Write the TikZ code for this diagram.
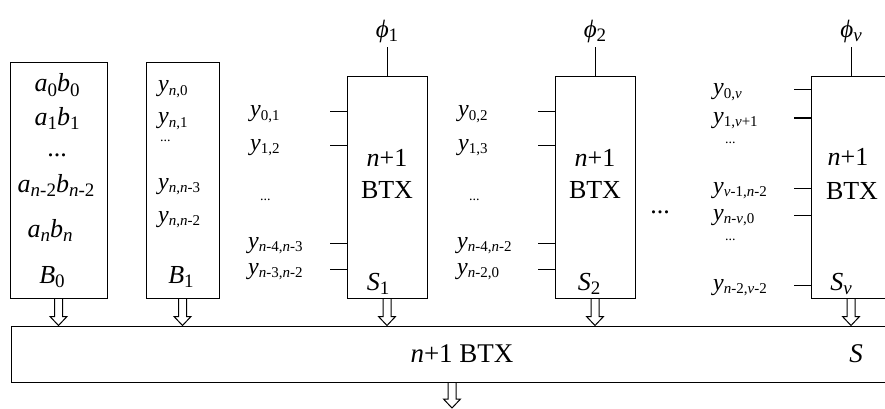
\documentclass[tikz,border=0pt]{standalone}
\usepackage{fontspec}
\setmainfont{Liberation Serif}
\usetikzlibrary{arrows.meta, positioning, calc}
% italic letter and lowered small indices (box text / side labels)
\newcommand{\iv}[1]{\textit{#1}}
\newcommand{\sbs}[1]{\raisebox{-0.35ex}{\fontsize{19}{19}\selectfont #1}}
\newcommand{\lsb}[1]{\raisebox{-0.35ex}{\fontsize{15}{15}\selectfont #1}}
\newcommand{\sdots}{{\fontsize{14}{14}\selectfont ...}}

\begin{document}
\begin{tikzpicture}[x=1pt, y=-1pt,
    blk/.style={rectangle, draw, line width=1pt, minimum width=80pt,
                minimum height=221pt, inner sep=0pt},
    tick/.style={line width=1pt},
    txt/.style={anchor=base, inner sep=0pt, font=\fontsize{26}{26}\selectfont},
    lbl/.style={anchor=base west, inner sep=0pt, font=\fontsize{24}{24}\selectfont},
    busarr/.style={line width=1pt, to path={
        ($(\tikztostart)+(-4,0)$) -- ($(\tikztotarget)+(-4,-9)$)
        -- ($(\tikztotarget)+(-8.5,-9)$) -- (\tikztotarget)
        -- ($(\tikztotarget)+(8.5,-9)$) -- ($(\tikztotarget)+(4,-9)$)
        -- ($(\tikztostart)+(4,0)$)}},
  ]
    \useasboundingbox (0,0) rectangle (885,409);

    % input blocks
    \node[blk, minimum width=97pt, minimum height=235pt] (b0) at (58.5,180.5) {};
    \node[blk, minimum width=73pt, minimum height=235pt] (b1) at (182.5,180.5) {};
    \node[blk] (s1) at (387,187.5) {};
    \node[blk] (s2) at (595,187.5) {};
    \node[blk] (sv) at (851,187.5) {};
    \node[rectangle, draw, line width=1pt, minimum width=894pt, minimum height=56pt,
          inner sep=0pt] (bus) at (458,354) {};

    % B0 contents
    \node[txt] (a0) at (57,92) {\iv{a}\sbs{0}\iv{b}\sbs{0}};
    \node[txt] (a1) at (57,125) {\iv{a}\sbs{1}\iv{b}\sbs{1}};
    \node[txt] (ad) at (57,156) {...};
    \node[txt] (a2) at (56,192) {\iv{a}\sbs{\iv{n}-2}\iv{b}\sbs{\iv{n}-2}};
    \node[txt] (an) at (50,237) {\iv{a}\sbs{\iv{n}}\iv{b}\sbs{\iv{n}}};
    \node[txt] (lb0) at (52,283) {\iv{B}\sbs{0}};

    % B1 contents
    \node[lbl] (yn0) at (158,92) {\iv{y}\lsb{\iv{n},0}};
    \node[lbl] (yn1) at (158,124) {\iv{y}\lsb{\iv{n},1}};
    \node[lbl] (ynd) at (160,141) {\sdots};
    \node[lbl] (yn3) at (158,189) {\iv{y}\lsb{\iv{n},\iv{n}-3}};
    \node[lbl] (yn2) at (158,222) {\iv{y}\lsb{\iv{n},\iv{n}-2}};
    \node[txt] (lb1) at (181,283) {\iv{B}\sbs{1}};

    % BTX blocks
    \foreach \b/\k in {s1/1, s2/2, sv/\iv{v}} {
      \draw[tick] (\b.north) -- ++(0,-29)
        node[above, inner sep=4pt, font=\fontsize{25}{25}\selectfont] {\iv{ϕ}\sbs{\k}};
    }
    \node[txt] (n1) at (387,166) {\iv{n}+1};
    \node[txt] (t1) at (387,198) {BTX};
    \node[txt] (ls1) at (378,290) {\iv{S}\sbs{1}};
    \node[txt] (n2) at (595,166) {\iv{n}+1};
    \node[txt] (t2) at (595,198) {BTX};
    \node[txt] (ls2) at (589,290) {\iv{S}\sbs{2}};
    \node[txt] (nv) at (848,165) {\iv{n}+1};
    \node[txt] (tv) at (852,199) {BTX};
    \node[txt] (lsv) at (841,290) {\iv{S}\sbs{\iv{v}}};
    \node[txt] (mid) at (660,213) {...};

    % inputs of S1
    \foreach \yy in {112,145,243,269}
      \draw[tick] (s1.west |- 0,\yy) -- ++(-17,0);
    \node[lbl] (y01) at (250,117) {\iv{y}\lsb{0,1}};
    \node[lbl] (y12) at (250,150) {\iv{y}\lsb{1,2}};
    \node[lbl] (y1d) at (260,200) {\sdots};
    \node[lbl] (y43) at (248,248) {\iv{y}\lsb{\iv{n}-4,\iv{n}-3}};
    \node[lbl] (y32) at (248,274) {\iv{y}\lsb{\iv{n}-3,\iv{n}-2}};

    % inputs of S2
    \foreach \yy in {112,145,243,269}
      \draw[tick] (s2.west |- 0,\yy) -- ++(-17,0);
    \node[lbl] (y02) at (458,117) {\iv{y}\lsb{0,2}};
    \node[lbl] (y13) at (458,150) {\iv{y}\lsb{1,3}};
    \node[lbl] (y2d) at (469,200) {\sdots};
    \node[lbl] (y42) at (457,248) {\iv{y}\lsb{\iv{n}-4,\iv{n}-2}};
    \node[lbl] (y20) at (457,274) {\iv{y}\lsb{\iv{n}-2,0}};

    % inputs of Sv
    \foreach \yy in {90,118,188,215,285}
      \draw[tick] (sv.west |- 0,\yy) -- ++(-17,0);
    \node[lbl] (y0v) at (713,95) {\iv{y}\lsb{0,\iv{v}}};
    \node[lbl] (y1v) at (713,123) {\iv{y}\lsb{1,\iv{v}+1}};
    \node[lbl] (yvd) at (725,143) {\sdots};
    \node[lbl] (yv1) at (713,193) {\iv{y}\lsb{\iv{v}-1,\iv{n}-2}};
    \node[lbl] (ynv) at (713,220) {\iv{y}\lsb{\iv{n}-\iv{v},0}};
    \node[lbl] (ywd) at (725,240) {\sdots};
    \node[lbl] (yv2) at (713,290) {\iv{y}\lsb{\iv{n}-2,\iv{v}-2}};

    % output bus
    \node[txt, font=\fontsize{27}{27}\selectfont] (btx) at (462,362) {\iv{n}+1 BTX};
    \node[txt, font=\fontsize{27}{27}\selectfont] (ls) at (856,362) {\iv{S}};
    \foreach \b in {b0, b1, s1, s2, sv}
      \draw[busarr] (\b.south) to (\b.south |- bus.north);
    \coordinate (out) at (452,408);
    \draw[busarr] (bus.south -| out) to (out);
  \end{tikzpicture}
\end{document}
